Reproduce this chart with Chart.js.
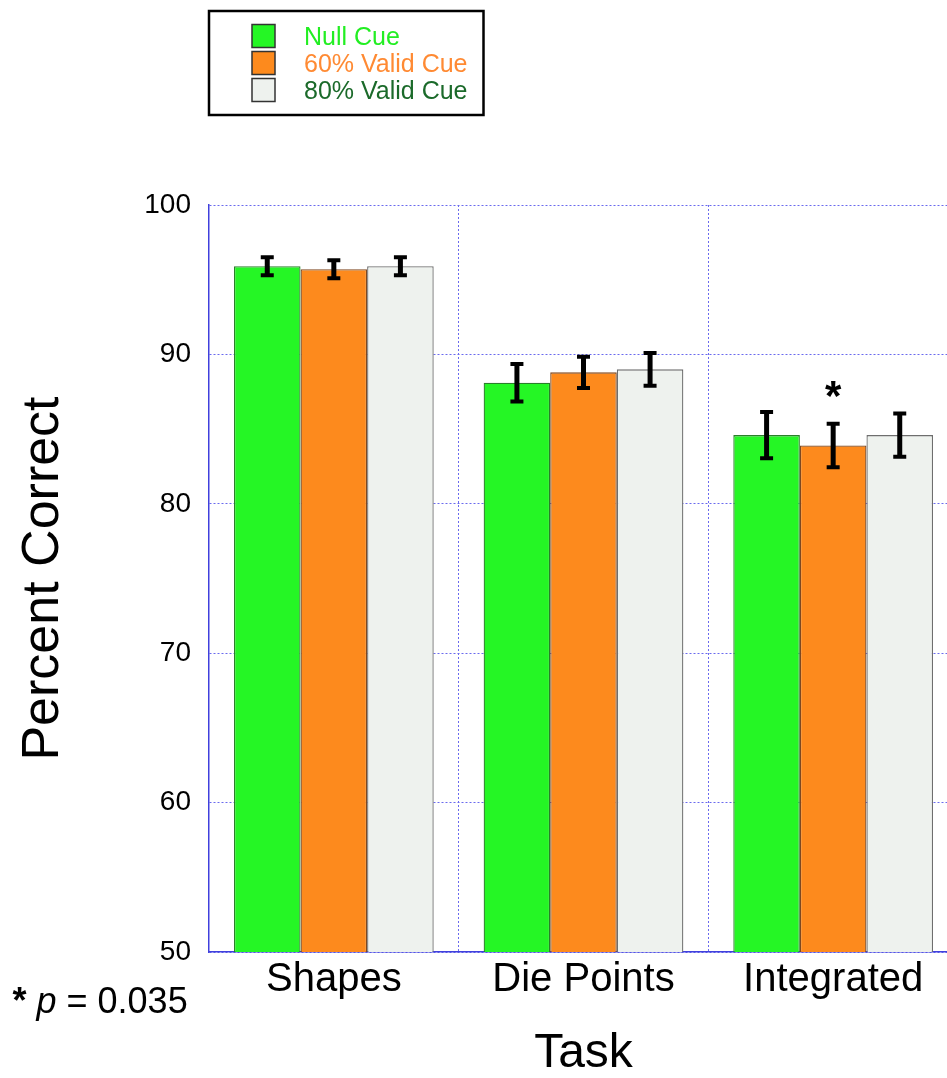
<!DOCTYPE html>
<html>
<head>
<meta charset="utf-8">
<script src="https://cdn.jsdelivr.net/npm/chart.js@4/dist/chart.umd.min.js"></script>
<style>
  html, body { margin: 0; padding: 0; background: #fff; overflow: hidden; }
  #wrap { width: 960px; height: 1078px; position: relative; }
</style>
</head>
<body>
<div id="wrap"><canvas id="chart"></canvas></div>
<script>
// Task categories and tick values
const tasks = ['Shapes', 'Die Points', 'Integrated'];
const yTicks = [50, 60, 70, 80, 90, 100];

// Mean percent correct per cue condition
const nullCue = [95.9, 88.1, 84.6];
const valid60 = [95.7, 88.8, 83.9];
const valid80 = [95.9, 89.0, 84.6];

// Error bar half-lengths
const nullCueErr = [0.6, 1.25, 1.55];
const valid60Err = [0.6, 1.05, 1.45];
const valid80Err = [0.6, 1.1, 1.45];

// Significance mark: [task index, series index]
const sigMarks = [[2, 1]];
const sigNote = { star: '*', p: 'p', rest: ' = 0.035' };

const FONT = '"Liberation Sans", Arial, Helvetica, sans-serif';
const GRID_BLUE = '#6a6aee';
const AXIS_BLUE = '#4040dd';

const overlay = {
  id: 'overlay',
  afterDatasetsDraw(chart) {
    const ctx = chart.ctx;
    const ys = chart.scales.y;
    ctx.save();
    // error bars
    chart.data.datasets.forEach((ds, di) => {
      const meta = chart.getDatasetMeta(di);
      meta.data.forEach((bar, i) => {
        const v = ds.data[i], e = ds.errors[i];
        const top = ys.getPixelForValue(v + e);
        const bot = ys.getPixelForValue(v - e);
        const cx = bar.x;
        ctx.strokeStyle = '#000';
        ctx.lineCap = 'butt';
        ctx.lineWidth = 5;
        ctx.beginPath();
        ctx.moveTo(cx, top);
        ctx.lineTo(cx, bot);
        ctx.stroke();
        ctx.lineWidth = 4;
        ctx.beginPath();
        ctx.moveTo(cx - 6.5, top);
        ctx.lineTo(cx + 6.5, top);
        ctx.moveTo(cx - 6.5, bot);
        ctx.lineTo(cx + 6.5, bot);
        ctx.stroke();
      });
    });
    // significance asterisk above the error bar
    sigMarks.forEach(([ti, di]) => {
      const ds = chart.data.datasets[di];
      const bar = chart.getDatasetMeta(di).data[ti];
      const top = ys.getPixelForValue(ds.data[ti] + ds.errors[ti]);
      ctx.fillStyle = '#000';
      ctx.font = 'bold 42px ' + FONT;
      ctx.textAlign = 'center';
      ctx.textBaseline = 'alphabetic';
      ctx.fillText('*', bar.x, top - 38 + 0.57 * 42);
    });
    ctx.restore();
  },
  afterDraw(chart) {
    const ctx = chart.ctx;
    ctx.save();
    // legend box
    ctx.strokeStyle = '#000';
    ctx.lineWidth = 2.5;
    ctx.strokeRect(209, 11, 274.5, 104);
    chart.data.datasets.forEach((ds, i) => {
      const sy = 24.5 + i * 27;
      ctx.fillStyle = ds.backgroundColor;
      ctx.fillRect(252, sy, 23, 23);
      ctx.strokeStyle = '#333';
      ctx.lineWidth = 1.5;
      ctx.strokeRect(252, sy, 23, 23);
      ctx.fillStyle = ds.labelColor;
      ctx.font = '25px ' + FONT;
      ctx.textAlign = 'left';
      ctx.textBaseline = 'alphabetic';
      ctx.fillText(ds.label, 304, sy + 11.5 + 9);
    });
    // significance note
    let x = 12.5;
    const base = 1013;
    ctx.fillStyle = '#000';
    ctx.textAlign = 'left';
    ctx.font = 'bold 36px ' + FONT;
    ctx.fillText(sigNote.star, x, base);
    x += ctx.measureText(sigNote.star).width;
    ctx.font = '36px ' + FONT;
    x += ctx.measureText(' ').width;
    ctx.font = 'italic 36px ' + FONT;
    ctx.fillText(sigNote.p, x, base);
    x += ctx.measureText(sigNote.p).width;
    ctx.font = '36px ' + FONT;
    ctx.fillText(sigNote.rest, x, base);
    ctx.restore();
  }
};

new Chart(document.getElementById('chart'), {
  type: 'bar',
  data: {
    labels: tasks,
    datasets: [
      { label: 'Null Cue', data: nullCue, errors: nullCueErr,
        backgroundColor: '#25f625', borderColor: '#2a7f2a', labelColor: '#22ee22' },
      { label: '60% Valid Cue', data: valid60, errors: valid60Err,
        backgroundColor: '#fd8a1d', borderColor: '#7e4820', labelColor: '#ff8a33' },
      { label: '80% Valid Cue', data: valid80, errors: valid80Err,
        backgroundColor: '#eef2ee', borderColor: '#6e6e6e', labelColor: '#1b6a2a' }
    ]
  },
  options: {
    responsive: true,
    maintainAspectRatio: false,
    animation: false,
    layout: { padding: { top: 205, right: 2, bottom: 0, left: 0 } },
    datasets: {
      bar: { categoryPercentage: 0.8, barPercentage: 1.0, borderWidth: 1.3, borderSkipped: 'bottom' }
    },
    plugins: { legend: { display: false }, tooltip: { enabled: false } },
    scales: {
      x: {
        grid: { color: GRID_BLUE, lineWidth: 1, drawTicks: false, offset: true },
        border: { display: true, color: AXIS_BLUE, width: 1.5, dash: [2, 2] },
        ticks: { color: '#000', font: { family: FONT, size: 40 }, padding: 4 },
        title: { display: true, text: 'Task', color: '#000',
                 font: { family: FONT, size: 48, lineHeight: 1.0 }, padding: 0 },
        afterFit(scale) { scale.height = 126; }
      },
      y: {
        min: 50, max: 100,
        afterBuildTicks(scale) { scale.ticks = yTicks.map(v => ({ value: v })); },
        grid: { color: GRID_BLUE, lineWidth: 1, drawTicks: false },
        border: { display: true, color: AXIS_BLUE, width: 1.5, dash: [2, 2] },
        ticks: { color: '#000', font: { family: FONT, size: 28 }, padding: 18 },
        title: { display: true, text: 'Percent Correct', color: '#000',
                 font: { family: FONT, size: 52, lineHeight: 1.2 }, padding: { top: 12, bottom: 0 } },
        afterFit(scale) { scale.width = 209; }
      }
    }
  },
  plugins: [overlay]
});
</script>
</body>
</html>
